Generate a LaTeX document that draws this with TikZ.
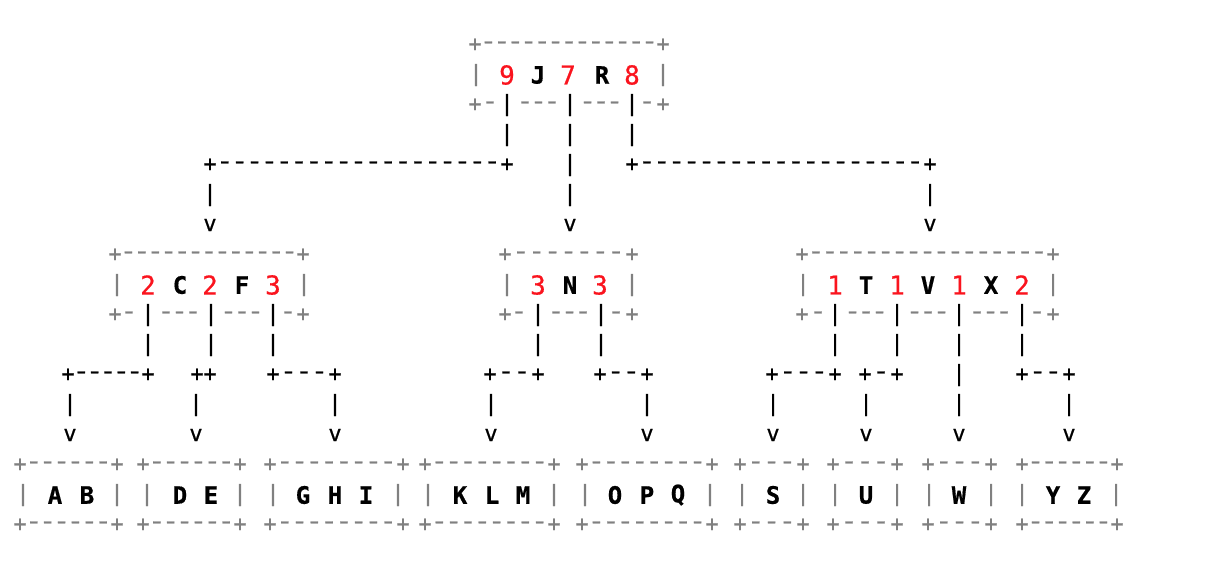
\documentclass[tikz,border=0pt]{standalone}
\usepackage{fontspec}
\newfontfamily\asciimono[FakeBold=0.7]{DejaVu Sans Mono}
\newfontfamily\asciidash[FakeStretch=1.3,FakeBold=0.9]{DejaVu Sans Mono}
\newfontfamily\asciikey[FakeBold=0.6]{DejaVu Sans Mono Bold}
\definecolor{boxgray}{RGB}{128,128,128}
\definecolor{numred}{RGB}{250,20,30}
\tikzset{
  ch/.style={inner sep=0pt, outer sep=0pt, font=\asciimono\fontsize{22}{22}\selectfont},
  dch/.style={inner sep=0pt, outer sep=0pt, font=\asciidash\fontsize{22}{22}\selectfont},
  gch/.style={ch, text=boxgray},
  kch/.style={ch, text=black},
  gdash/.style={dch, text=boxgray},
  kdash/.style={dch, text=black},
  keych/.style={inner sep=0pt, outer sep=0pt, font=\asciikey\fontsize{24}{24}\selectfont, text=black},
  cntch/.style={inner sep=0pt, outer sep=0pt, font=\asciimono\fontsize{26}{26}\selectfont, text=numred},
}
% n dashes evenly between x1 and x2
\newcommand\Ahdash[6]{\foreach \i in {1,...,#5}{\node[#6] (#1-\i) at ({#2+\i*(#3-#2)/(#5+1)},#4) {\makebox[6pt]{-}};}}
% gray border line  + --- +
\newcommand\Abline[5]{\node[gch] (#1-l) at (#2,#4) {+};\node[gch] (#1-r) at (#3,#4) {+};\Ahdash{#1-d}{#2}{#3}{#4}{#5}{gdash}}
% black connector line  + --- +
\newcommand\Akline[5]{\node[kch] (#1-l) at (#2,#4) {+};\node[kch] (#1-r) at (#3,#4) {+};\Ahdash{#1-d}{#2}{#3}{#4}{#5}{kdash}}
% three gray dashes centred on x
\newcommand\Atrip[3]{\node[gdash] (#1-a) at ({#2-13.5},#3) {\makebox[6pt]{-}};\node[gdash] (#1-b) at (#2,#3) {\makebox[6pt]{-}};\node[gdash] (#1-c) at ({#2+13.5},#3) {\makebox[6pt]{-}};}
\newcommand\Agd[3]{\node[gdash] (#1) at (#2,#3) {\makebox[6pt]{-}};}
\newcommand\Avb[3]{\node[kch] (#1) at (#2,#3) {|};}
\newcommand\Agv[3]{\node[gch] (#1) at (#2,#3) {|};}
\newcommand\Aarr[3]{\node[kch] (#1) at (#2,#3) {v};}
\newcommand\Aleaf[4]{\Abline{#1t}{#2}{#3}{465}{#4}\Abline{#1b}{#2}{#3}{525}{#4}}

\begin{document}
\begin{tikzpicture}[x=1pt,y=-1pt]
\useasboundingbox (0,0) rectangle (1214,562);

% ---------------- root ----------------
\Abline{r0}{475}{663}{45}{13}
\Agv{r1l}{476}{75}
\node[cntch] (r9) at (507,75) {9};
\node[keych] (rJ) at (538,75) {J};
\node[cntch] (r7) at (568,75) {7};
\node[keych] (rR) at (602,75) {R};
\node[cntch] (r8) at (632,75) {8};
\Agv{r1r}{663}{75}
\node[gch] (r2l) at (475,105) {+};
\Agd{r2a}{490}{105}
\Avb{r2b1}{507}{105}
\Atrip{r2t1}{538.5}{105}
\Avb{r2b2}{570}{105}
\Atrip{r2t2}{601}{105}
\Avb{r2b3}{632}{105}
\Agd{r2c}{647}{105}
\node[gch] (r2r) at (663,105) {+};
\Avb{r3a}{507}{135}\Avb{r3b}{570}{135}\Avb{r3c}{632}{135}
\Akline{r4l}{210}{507}{165}{19}
\Avb{r4m}{570}{165}
\Akline{r4r}{632}{930}{165}{19}
\Avb{r5a}{210}{195}\Avb{r5b}{570}{195}\Avb{r5c}{930}{195}
\Aarr{r6a}{210}{225}\Aarr{r6b}{570}{225}\Aarr{r6c}{930}{225}

% ---------------- C F box ----------------
\Abline{c0}{115}{303}{255}{13}
\Agv{c1l}{117}{285}
\node[cntch] (c2a) at (148,285) {2};
\node[keych] (cC) at (180,285) {C};
\node[cntch] (c2b) at (210,285) {2};
\node[keych] (cF) at (242,285) {F};
\node[cntch] (c3) at (273,285) {3};
\Agv{c1r}{304}{285}
\node[gch] (c2l) at (115,315) {+};
\Agd{c2d}{129}{315}
\Avb{c2b1}{148}{315}
\Atrip{c2t1}{179.5}{315}
\Avb{c2b2}{211}{315}
\Atrip{c2t2}{242}{315}
\Avb{c2b3}{273}{315}
\Agd{c2e}{288}{315}
\node[gch] (c2r) at (303,315) {+};
\Avb{c3a}{148}{345}\Avb{c3b}{211}{345}\Avb{c3c}{273}{345}
\Akline{c4a}{68}{148}{375}{5}
\node[kch] (c4b1) at (197,375) {+};
\node[kch] (c4b2) at (210,375) {+};
\Akline{c4c}{273}{335}{375}{3}
\Avb{c5a}{70}{405}\Avb{c5b}{196}{405}\Avb{c5c}{335}{405}
\Aarr{c6a}{70}{435}\Aarr{c6b}{196}{435}\Aarr{c6c}{335}{435}

% ---------------- N box ----------------
\Abline{n0}{505}{632}{255}{7}
\Agv{n1l}{507}{285}
\node[cntch] (n3a) at (538,285) {3};
\node[keych] (nN) at (570,285) {N};
\node[cntch] (n3b) at (600,285) {3};
\Agv{n1r}{632}{285}
\node[gch] (n2l) at (505,315) {+};
\Agd{n2d}{519}{315}
\Avb{n2b1}{538}{315}
\Atrip{n2t1}{569.5}{315}
\Avb{n2b2}{601}{315}
\Agd{n2e}{616}{315}
\node[gch] (n2r) at (632,315) {+};
\Avb{n3va}{538}{345}\Avb{n3vb}{601}{345}
\Akline{n4a}{490}{538}{375}{2}
\Akline{n4b}{600}{647}{375}{2}
\Avb{n5a}{491}{405}\Avb{n5b}{647}{405}
\Aarr{n6a}{491}{435}\Aarr{n6b}{647}{435}

% ---------------- T V X box ----------------
\Abline{t0}{802}{1053}{255}{17}
\Agv{t1l}{803}{285}
\node[cntch] (t1a) at (835,285) {1};
\node[keych] (tT) at (866,285) {T};
\node[cntch] (t1b) at (897,285) {1};
\node[keych] (tV) at (928,285) {V};
\node[cntch] (t1c) at (959,285) {1};
\node[keych] (tX) at (991,285) {X};
\node[cntch] (t2) at (1022,285) {2};
\Agv{t1r}{1053}{285}
\node[gch] (t2l) at (802,315) {+};
\Agd{t2d}{818}{315}
\Avb{t2b1}{835}{315}
\Atrip{t2t1}{866}{315}
\Avb{t2b2}{897}{315}
\Atrip{t2t2}{928}{315}
\Avb{t2b3}{959}{315}
\Atrip{t2t3}{990.5}{315}
\Avb{t2b4}{1022}{315}
\Agd{t2e}{1037}{315}
\node[gch] (t2r) at (1053,315) {+};
\Avb{t3a}{835}{345}\Avb{t3b}{897}{345}\Avb{t3c}{959}{345}\Avb{t3d}{1022}{345}
\Akline{t4a}{772}{835}{375}{3}
\Akline{t4b}{865}{897}{375}{1}
\Avb{t4c}{959}{375}
\Akline{t4d}{1022}{1069}{375}{2}
\Avb{t5a}{773}{405}\Avb{t5b}{866}{405}\Avb{t5c}{959}{405}\Avb{t5d}{1069}{405}
\Aarr{t6a}{773}{435}\Aarr{t6b}{866}{435}\Aarr{t6c}{959}{435}\Aarr{t6d}{1069}{435}

% ---------------- leaves ----------------
\Aleaf{lab}{20}{117}{6}
\Agv{labl}{23}{495}\node[keych] (lA) at (55,495) {A};\node[keych] (lB) at (87,495) {B};\Agv{labr}{117}{495}
\Aleaf{lde}{143}{240}{6}
\Agv{ldel}{147}{495}\node[keych] (lD) at (180,495) {D};\node[keych] (lE) at (211,495) {E};\Agv{lder}{240}{495}
\Aleaf{lghi}{270}{403}{8}
\Agv{lghil}{273}{495}\node[keych] (lG) at (303,495) {G};\node[keych] (lH) at (335,495) {H};\node[keych] (lI) at (366,495) {I};\Agv{lghir}{398}{495}
\Aleaf{lklm}{425}{554}{8}
\Agv{lklml}{428}{495}\node[keych] (lK) at (460,495) {K};\node[keych] (lL) at (492,495) {L};\node[keych] (lM) at (523,495) {M};\Agv{lklmr}{554}{495}
\Aleaf{lopq}{582}{712}{8}
\Agv{lopql}{585}{495}\node[keych] (lO) at (615,495) {O};\node[keych] (lP) at (647,495) {P};\node[keych] (lQ) at (678,495) {Q};\Agv{lopqr}{710}{495}
\Aleaf{ls}{740}{803}{3}
\Agv{lsl}{742}{495}\node[keych] (lS) at (773,495) {S};\Agv{lsr}{803}{495}
\Aleaf{lu}{833}{897}{3}
\Agv{lul}{835}{495}\node[keych] (lU) at (866,495) {U};\Agv{lur}{897}{495}
\Aleaf{lw}{928}{991}{3}
\Agv{lwl}{929}{495}\node[keych] (lW) at (959,495) {W};\Agv{lwr}{991}{495}
\Aleaf{lyz}{1022}{1117}{6}
\Agv{lyzl}{1022}{495}\node[keych] (lY) at (1053,495) {Y};\node[keych] (lZ) at (1084,495) {Z};\Agv{lyzr}{1116}{495}
\end{tikzpicture}
\end{document}
